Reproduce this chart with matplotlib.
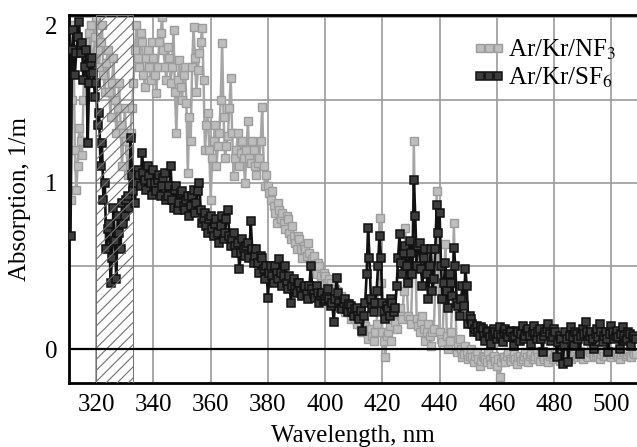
import numpy as np
import matplotlib
matplotlib.use("Agg")
import matplotlib.pyplot as plt
from matplotlib.ticker import MultipleLocator

plt.rcParams['font.family'] = ['Liberation Serif', 'DejaVu Serif']
plt.rcParams['mathtext.fontset'] = 'stix'

# readings at whole nanometres (311 ... 508) and at the half-way points (311.5 ... 508.5)
wl_whole = np.arange(311, 509)
wl_half = np.arange(311.5, 509.5)

sf6_whole = [0.68, 1.92, 1.78, 1.97, 1.84, 1.70, 1.24, 1.72, 1.66, 1.60,
             1.42, 1.24, 1.00, 0.72, 0.40, 0.85, 0.42, 0.70, 0.88, 0.80,
             0.92, 1.27, 0.95, 1.00, 1.05, 1.18, 1.02, 1.10, 1.00, 1.08,
             0.95, 1.05, 0.98, 1.06, 0.92, 1.10, 0.85, 0.98, 0.88, 0.95,
             0.84, 0.92, 0.86, 0.96, 0.88, 1.00, 0.76, 0.82, 0.70, 0.80,
             0.68, 0.78, 0.64, 0.80, 0.70, 0.84, 0.62, 0.70, 0.58, 0.48,
             0.66, 0.56, 0.64, 0.77, 0.52, 0.60, 0.46, 0.55, 0.42, 0.31,
             0.50, 0.40, 0.46, 0.54, 0.38, 0.50, 0.36, 0.28, 0.42, 0.34,
             0.40, 0.32, 0.38, 0.30, 0.50, 0.33, 0.38, 0.28, 0.34, 0.30,
             0.36, 0.26, 0.16, 0.43, 0.28, 0.24, 0.30, 0.22, 0.26, 0.20,
             0.25, 0.18, 0.11, 0.28, 0.73, 0.30, 0.22, 0.35, 0.68, 0.28,
             0.18, 0.24, 0.30, 0.22, 0.38, 0.69, 0.45, 0.62, 0.40, 0.58,
             1.02, 0.50, 0.64, 0.38, 0.60, 0.30, 0.60, 0.42, 0.87, 0.82,
             0.30, 0.52, 0.25, 0.40, 0.61, 0.28, 0.20, 0.38, 0.48, 0.15,
             0.18, 0.10, 0.14, 0.08, 0.12, 0.05, 0.10, 0.03, 0.12, 0.06,
             0.13, 0.04, 0.12, 0.07, 0.10, 0.02, 0.11, 0.05, 0.14, 0.08,
             0.12, 0.03, 0.14, 0.06, 0.12, -0.02, 0.10, 0.15, 0.05, 0.12,
             -0.05, 0.08, -0.09, 0.10, -0.08, 0.13, 0.02, 0.09, -0.03, 0.12,
             0.16, 0.05, 0.10, 0.00, 0.12, 0.15, 0.04, 0.10, -0.02, 0.14,
             0.06, 0.11, 0.00, 0.13, 0.05, 0.10, 0.02, 0.08]

sf6_half = [1.80, 1.65, 1.88, 1.78, 1.62, 1.80, 1.60, 1.75, 1.52, 1.35,
            1.10, 0.90, 0.60, 0.75, 0.55, 0.65, 0.80, 0.60, 0.75, 0.90,
            0.85, 1.05, 0.88, 1.08, 0.98, 1.06, 0.96, 1.04, 0.93, 1.00,
            1.02, 0.92, 1.03, 0.90, 0.98, 0.90, 0.96, 0.84, 0.94, 0.86,
            0.90, 0.80, 0.92, 0.82, 0.95, 0.84, 0.78, 0.74, 0.78, 0.72,
            0.75, 0.70, 0.74, 0.66, 0.78, 0.68, 0.66, 0.62, 0.64, 0.58,
            0.60, 0.62, 0.55, 0.60, 0.56, 0.52, 0.56, 0.48, 0.50, 0.46,
            0.44, 0.50, 0.42, 0.46, 0.44, 0.40, 0.44, 0.38, 0.36, 0.40,
            0.35, 0.37, 0.33, 0.38, 0.36, 0.31, 0.34, 0.32, 0.29, 0.32,
            0.30, 0.28, 0.30, 0.34, 0.25, 0.28, 0.24, 0.27, 0.22, 0.24,
            0.20, 0.23, 0.20, 0.45, 0.55, 0.25, 0.28, 0.50, 0.55, 0.22,
            0.26, 0.20, 0.28, 0.25, 0.55, 0.52, 0.58, 0.50, 0.65, 0.45,
            0.80, 0.62, 0.48, 0.55, 0.45, 0.50, 0.35, 0.60, 0.70, 0.50,
            0.40, 0.35, 0.45, 0.32, 0.50, 0.26, 0.30, 0.26, 0.38, 0.20,
            0.15, 0.12, 0.10, 0.13, 0.08, 0.11, 0.07, 0.09, 0.10, 0.09,
            0.07, 0.10, 0.09, 0.11, 0.07, 0.08, 0.10, 0.09, 0.06, 0.11,
            0.08, 0.10, 0.09, 0.10, 0.06, 0.08, 0.12, 0.09, 0.07, 0.10,
            0.04, 0.06, 0.02, 0.06, 0.08, 0.07, 0.10, 0.06, 0.08, 0.09,
            0.10, 0.08, 0.06, 0.09, 0.07, 0.10, 0.08, 0.06, 0.09, 0.10,
            0.08, 0.07, 0.09, 0.08, 0.06, 0.09, 0.07, 0.06]

nf3_whole = [0.90, 1.95, 0.96, 1.33, 1.17, 1.85, 1.60, 1.95, 1.75, 2.00,
             1.70, 1.95, 1.55, 1.80, 1.40, 1.75, 1.30, 1.60, 1.10, 1.45,
             1.05, 1.30, 1.60, 1.95, 1.70, 1.85, 1.58, 1.80, 1.62, 1.75,
             1.54, 1.85, 2.00, 1.70, 1.82, 1.60, 1.92, 1.30, 1.74, 1.50,
             1.70, 1.06, 1.25, 1.94, 1.55, 1.78, 1.93, 1.20, 1.42, 0.90,
             1.25, 1.10, 1.30, 1.84, 1.15, 1.28, 1.63, 1.04, 1.20, 1.10,
             1.25, 1.00, 1.37, 1.12, 1.20, 1.05, 1.15, 1.46, 0.98, 0.98,
             0.90, 0.86, 0.76, 0.84, 0.82, 0.72, 0.78, 0.66, 0.68, 0.60,
             0.66, 0.55, 0.60, 0.64, 0.50, 0.56, 0.45, 0.50, 0.40, 0.44,
             0.36, 0.40, 0.30, 0.35, 0.28, 0.30, 0.22, 0.27, 0.18, 0.22,
             0.15, 0.18, 0.10, 0.14, 0.06, 0.12, 0.05, 0.15, 0.79, 0.10,
             -0.05, 0.10, 0.05, 0.20, 0.12, 0.25, 0.18, 0.73, 0.20, 0.15,
             1.25, 0.18, 0.10, 0.20, 0.05, 0.15, 0.02, 0.12, 0.95, 0.10,
             0.04, 0.63, 0.00, 0.10, 0.76, -0.02, 0.06, -0.05, 0.02, -0.06,
             0.00, -0.08, -0.02, -0.10, -0.04, -0.06, -0.02, -0.09, -0.04, -0.10,
             -0.17, -0.05, -0.08, -0.02, -0.07, -0.03, -0.09, -0.04, -0.06, -0.02,
             -0.08, -0.03, -0.06, -0.01, -0.07, -0.04, -0.02, -0.08, -0.03, -0.05,
             -0.01, -0.07, -0.03, -0.05, -0.02, -0.06, -0.03, -0.04, -0.01, -0.06,
             -0.03, -0.05, 0.00, -0.04, -0.02, -0.06, -0.01, -0.04, -0.02, -0.05,
             -0.01, -0.03, -0.06, -0.02, -0.04, -0.01, -0.05, -0.03]

nf3_half = [1.50, 1.20, 1.10, 1.25, 1.50, 1.75, 1.90, 1.70, 1.88, 1.80,
            1.85, 1.65, 1.72, 1.55, 1.60, 1.50, 1.45, 1.35, 1.30, 1.25,
            1.20, 1.45, 1.80, 1.75, 1.90, 1.65, 1.75, 1.70, 1.85, 1.65,
            1.70, 1.90, 1.80, 1.62, 1.75, 1.70, 1.55, 1.62, 1.58, 1.65,
            1.48, 1.40, 1.70, 1.75, 1.68, 1.85, 1.62, 1.35, 1.20, 1.15,
            1.35, 1.22, 1.50, 1.40, 1.22, 1.45, 1.30, 1.15, 1.30, 1.18,
            1.15, 1.20, 1.15, 1.25, 1.10, 1.12, 1.25, 1.10, 1.05, 0.94,
            0.95, 0.82, 0.88, 0.78, 0.76, 0.80, 0.70, 0.74, 0.64, 0.68,
            0.60, 0.62, 0.56, 0.58, 0.54, 0.50, 0.52, 0.44, 0.46, 0.40,
            0.42, 0.34, 0.36, 0.30, 0.32, 0.26, 0.28, 0.22, 0.24, 0.18,
            0.20, 0.14, 0.16, 0.10, 0.12, 0.08, 0.10, 0.35, 0.40, 0.05,
            0.08, 0.14, 0.18, 0.16, 0.22, 0.20, 0.35, 0.40, 0.18, 0.45,
            0.60, 0.14, 0.16, 0.12, 0.10, 0.08, 0.10, 0.40, 0.50, 0.06,
            0.30, 0.08, 0.05, 0.35, 0.30, 0.02, 0.00, -0.03, -0.02, -0.04,
            -0.05, -0.04, -0.06, -0.07, -0.05, -0.08, -0.06, -0.05, -0.07, -0.06,
            -0.08, -0.05, -0.04, -0.06, -0.05, -0.06, -0.05, -0.07, -0.04, -0.05,
            -0.04, -0.06, -0.04, -0.05, -0.03, -0.06, -0.05, -0.04, -0.06, -0.03,
            -0.04, -0.05, -0.04, -0.03, -0.05, -0.04, -0.02, -0.05, -0.04, -0.03,
            -0.04, -0.02, -0.03, -0.05, -0.04, -0.03, -0.04, -0.02, -0.04, -0.03,
            -0.02, -0.04, -0.03, -0.02, -0.03, -0.04, -0.02, -0.03]

hatch_band = (320, 333)
x_ticks = [320, 340, 360, 380, 400, 420, 440, 460, 480, 500]
y_ticks = [0, 1, 2]


def merge(x_a, y_a, x_b, y_b):
    x = np.column_stack([x_a, x_b]).ravel()
    y = np.column_stack([y_a, y_b]).ravel()
    return x, y


wl_sf6, sf6 = merge(wl_whole, sf6_whole, wl_half, sf6_half)
wl_nf3, nf3 = merge(wl_whole, nf3_whole, wl_half, nf3_half)

fig = plt.figure(figsize=(6.37, 4.47), dpi=100)
ax = fig.add_axes([0.108, 0.143, 0.892, 0.823])

ax.set_xlim(310.4, 509)
ax.set_ylim(-0.205, 2.01)

ax.set_xticks(x_ticks)
ax.set_yticks(y_ticks)
ax.yaxis.set_minor_locator(MultipleLocator(0.5))
ax.grid(True, which='both', color='#9a9a9a', linewidth=1.2, zorder=0)
ax.tick_params(which='both', length=0, labelsize=18, pad=8)

ax.plot(wl_nf3, nf3, '-s', color='#a6a6a6', linewidth=1.8,
        markersize=5.4, markerfacecolor='#bdbdbd', markeredgecolor='#9c9c9c',
        markeredgewidth=1.0, zorder=2, label='Ar/Kr/NF$_3$')
ax.plot(wl_sf6, sf6, '-s', color='#111111', linewidth=1.9,
        markersize=5.4, markerfacecolor='#3c3c3c', markeredgecolor='#111111',
        markeredgewidth=1.1, zorder=3, label='Ar/Kr/SF$_6$')

plt.rcParams['hatch.linewidth'] = 0.8
ax.axvspan(hatch_band[0], hatch_band[1], facecolor='none',
           hatch='///', edgecolor='#707070', linewidth=0.7, zorder=4)

ax.axhline(0, color='black', linewidth=1.6, zorder=5)

for side in ['left', 'bottom', 'top']:
    ax.spines[side].set_linewidth(2.0)
    ax.spines[side].set_color('black')
ax.spines['right'].set_visible(False)

ax.set_xlabel('Wavelength, nm', fontsize=18, labelpad=6)
ax.set_ylabel('Absorption, 1/m', fontsize=18, labelpad=10)

labels = ax.get_yticklabels()
labels[-1].set_verticalalignment('top')

leg = ax.legend(loc='upper right', bbox_to_anchor=(0.99, 0.98), fontsize=18,
                frameon=False, numpoints=3, handlelength=1.3,
                handletextpad=0.1, labelspacing=0.15, borderaxespad=0.2)

fig.savefig('out.png', dpi=100)
